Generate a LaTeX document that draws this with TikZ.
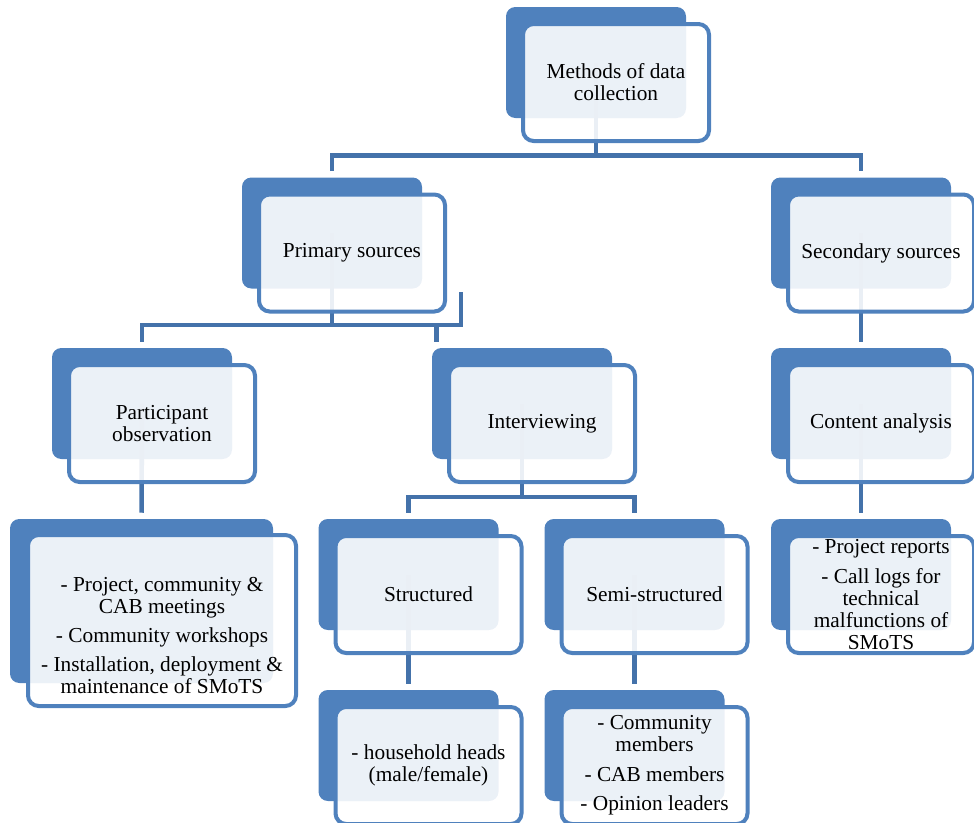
\documentclass[tikz,border=0pt]{standalone}
\usepackage{fontspec}
\setmainfont{Liberation Serif}
\usetikzlibrary{positioning,calc}

\definecolor{boxblue}{RGB}{79,129,189}
\definecolor{linkblue}{RGB}{68,114,170}

\begin{document}
\begin{tikzpicture}[x=0.75pt,y=-0.75pt,
    back/.style={rectangle, rounded corners=7pt, fill=boxblue, inner sep=0pt,
                 minimum width=135pt, minimum height=83.25pt},
    front/.style={rectangle, rounded corners=8pt, draw=boxblue, line width=3pt,
                  fill=white, fill opacity=0.89, text opacity=1, inner sep=0pt,
                  minimum width=139.5pt, minimum height=87.75pt, align=center,
                  font=\fontsize{16}{16.5}\selectfont},
    bigback/.style={back, minimum width=197.25pt, minimum height=123pt},
    bigfront/.style={front, minimum width=201pt, minimum height=128.25pt},
    link/.style={draw=linkblue, line width=3.4pt}]

  \useasboundingbox (0,0) rectangle (974,822);

  % blue boxes behind
  \node[back] (meth-b) at (596,62.5) {};
  \node[back] (prim-b) at (332,233) {};
  \node[back] (sec-b) at (861,233) {};
  \node[back] (pobs-b) at (142,403.5) {};
  \node[back] (intv-b) at (522,403.5) {};
  \node[back] (cont-b) at (861,403.5) {};
  \node[bigback] (plist-b) at (141.5,601) {};
  \node[back] (str-b) at (408.5,574.5) {};
  \node[back] (semi-b) at (634.5,574.5) {};
  \node[back] (clist-b) at (861,574.5) {};
  \node[back] (hh-b) at (408.5,745.5) {};
  \node[back] (slist-b) at (634.5,745.5) {};

  % connectors
  \draw[link] (meth-b.center) -- ++(0,93) coordinate (j1);
  \draw[link, shorten <=4.5pt, shorten >=4.5pt] (prim-b.north) |- (j1) -| (sec-b.north);

  \draw[link] (prim-b.center) -- ++(0,92) coordinate (j2);
  \draw[link, shorten <=4.5pt] (pobs-b.north) |- (j2) -- ++(129,0) -- ++(0,-33);
  \coordinate (k2) at ([shift={(5,0)}]intv-b.north west);
  \draw[link, shorten <=4.5pt] (k2) -- (k2 |- j2);

  \draw[link] (intv-b.center) -- ++(0,93.5) coordinate (j3);
  \draw[link, shorten <=4.5pt, shorten >=4.5pt] (str-b.north) |- (j3) -| (semi-b.north);

  \draw[link, shorten >=4.5pt] (pobs-b.center) -- (plist-b.north);
  \draw[link, shorten >=4.5pt] (sec-b.center) -- (cont-b.north);
  \draw[link, shorten >=4.5pt] (cont-b.center) -- (clist-b.north);
  \draw[link, shorten >=4.5pt] (str-b.center) -- (hh-b.north);
  \draw[link, shorten >=4.5pt] (semi-b.center) -- (slist-b.north);

  % boxes in front
  \node[front] (meth) at ([shift={(20,20)}]meth-b.center) {Methods of data\\collection};
  \node[front] (prim) at ([shift={(20,20)}]prim-b.center) {Primary sources};
  \node[front] (sec) at ([shift={(20,20)}]sec-b.center) {Secondary sources};
  \node[front] (pobs) at ([shift={(20,20)}]pobs-b.center) {Participant\\observation};
  \node[front] (intv) at ([shift={(20,20)}]intv-b.center) {Interviewing};
  \node[front] (cont) at ([shift={(20,20)}]cont-b.center) {Content analysis};
  \node[bigfront] (plist) at ([shift={(20.5,19.5)}]plist-b.center) {};
  \node[align=center, inner sep=0pt, font=\fontsize{16}{16.5}\selectfont]
    (plist-txt) at ([shift={(0,15)}]plist.center)
    {- Project, community \&\\CAB meetings\\[5.5pt]- Community workshops\\[5.5pt]- Installation, deployment \&\\maintenance of SMoTS};
  \node[front] (str) at ([shift={(20,20)}]str-b.center) {Structured};
  \node[front] (semi) at ([shift={(20,20)}]semi-b.center) {Semi-structured};
  \node[front] (clist) at ([shift={(20,20)}]clist-b.center)
    {- Project reports\\[5.5pt]- Call logs for\\technical\\malfunctions of\\SMoTS};
  \node[front] (hh) at ([shift={(20,20)}]hh-b.center) {- household heads\\(male/female)};
  \node[front] (slist) at ([shift={(20,20)}]slist-b.center)
    {- Community\\members\\[5.5pt]- CAB members\\[5.5pt]- Opinion leaders};
\end{tikzpicture}
\end{document}
